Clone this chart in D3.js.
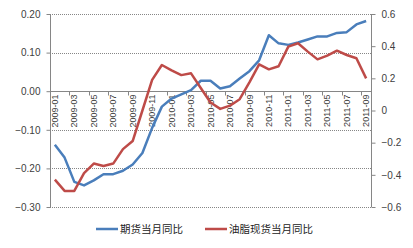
<!DOCTYPE html>
<html><head><meta charset="utf-8">
<script src="https://cdn.jsdelivr.net/npm/d3@7"></script>
<style>body{margin:0;background:#fff}svg{display:block}</style>
</head><body>
<script>
const categories = [];
const years = ["2009","2010","2011"];
years.forEach(y => { for (let m = 1; m <= 12; m++) { if (y === "2011" && m > 9) break; categories.push(y + "-" + String(m).padStart(2, "0")); } });
const futures = [-0.139,-0.172,-0.235,-0.244,-0.231,-0.215,-0.215,-0.206,-0.19,-0.16,-0.095,-0.04,-0.019,-0.008,0.003,0.027,0.027,0.007,0.013,0.033,0.052,0.08,0.145,0.124,0.120,0.126,0.134,0.142,0.142,0.151,0.153,0.173,0.182];
const spot = [-0.43,-0.50,-0.50,-0.39,-0.33,-0.345,-0.33,-0.24,-0.19,0.0,0.19,0.283,0.25,0.22,0.231,0.14,0.05,0.01,0.03,0.07,0.175,0.287,0.256,0.275,0.397,0.418,0.366,0.318,0.341,0.372,0.345,0.325,0.20];
const leftTicks = [0.2,0.1,0,-0.1,-0.2,-0.3];
const rightTicks = [0.6,0.4,0.2,0,-0.2,-0.4,-0.6];
const seriesNames = ["期货当月同比","油脂现货当月同比"];
const colors = ["#4a7ebb","#be4b48"];

const W = 413, H = 248;
const svg = d3.select("body").append("svg").attr("width", W).attr("height", H);
const x0 = 50, x1 = 371, yTop = 14, yBot = 207;
const x = d3.scaleBand().domain(categories).range([x0, x1]);
const yL = d3.scaleLinear().domain([-0.3, 0.2]).range([yBot, yTop]);
const yR = d3.scaleLinear().domain([-0.6, 0.6]).range([yBot, yTop]);
const axisCol = "#868686", textCol = "#404040";
const font = "'Liberation Sans', Arial, sans-serif";

// gridlines
svg.append("g").selectAll("line").data(leftTicks.filter(d => d !== 0)).join("line")
  .attr("x1", x0).attr("x2", x1).attr("y1", d => Math.round(yL(d)) + 0.5).attr("y2", d => Math.round(yL(d)) + 0.5)
  .attr("stroke", axisCol).attr("stroke-width", 1).attr("stroke-dasharray", "1,1");

// left axis
const gL = svg.append("g").attr("transform", `translate(${x0 + 0.5},0)`)
  .call(d3.axisLeft(yL).tickValues(leftTicks).tickFormat(d3.format(".2f")).tickSize(4).tickPadding(6));
gL.select(".domain").attr("stroke", axisCol).attr("d", `M-0,${yTop}V${yBot}`);
gL.selectAll(".tick line").attr("stroke", axisCol);
gL.selectAll("text").attr("fill", textCol).attr("font-size", 10).attr("font-family", font);

// right axis
const gR = svg.append("g").attr("transform", `translate(${x1 + 0.5},0)`)
  .call(d3.axisRight(yR).tickValues(rightTicks).tickFormat(d => d === 0 ? "0" : d3.format(".1f")(d)).tickSize(4).tickPadding(6));
gR.select(".domain").attr("stroke", axisCol).attr("d", `M0,${yTop}V${yBot}`);
gR.selectAll(".tick line").attr("stroke", axisCol);
gR.selectAll("text").attr("fill", textCol).attr("font-size", 10).attr("font-family", font);

// category axis at 0
const y0 = Math.round(yL(0)) + 0.5;
const gX = svg.append("g").attr("transform", `translate(0,${y0})`);
gX.append("line").attr("x1", x0).attr("x2", x1).attr("stroke", axisCol);
const bw = x.bandwidth();
gX.selectAll("line.tk").data(categories.filter((d, i) => i % 2 === 0)).join("line").attr("class", "tk")
  .attr("x1", d => Math.round(x(d)) + 0.5).attr("x2", d => Math.round(x(d)) + 0.5).attr("y1", 0).attr("y2", 4).attr("stroke", axisCol);
gX.selectAll("text").data(categories.filter((d, i) => i % 2 === 0)).join("text")
  .attr("transform", d => `translate(${x(d) + bw / 2},3) rotate(-90)`)
  .attr("text-anchor", "end").attr("dy", "0.35em")
  .attr("fill", textCol).attr("font-size", 9).attr("font-family", font).text(d => d);

// lines
const lineL = d3.line().x((d, i) => x(categories[i]) + bw / 2).y(d => yL(d));
const lineR = d3.line().x((d, i) => x(categories[i]) + bw / 2).y(d => yR(d));
svg.append("path").datum(futures).attr("d", lineL).attr("fill", "none").attr("stroke", colors[0]).attr("stroke-width", 2.5).attr("stroke-linejoin", "round");
svg.append("path").datum(spot).attr("d", lineR).attr("fill", "none").attr("stroke", colors[1]).attr("stroke-width", 2.5).attr("stroke-linejoin", "round");

// legend
const legX = [96, 205];
const leg = svg.append("g");
seriesNames.forEach((n, i) => {
  leg.append("line").attr("x1", legX[i]).attr("x2", legX[i] + 22).attr("y1", 229).attr("y2", 229)
    .attr("stroke", colors[i]).attr("stroke-width", 2.5);
  leg.append("text").attr("x", legX[i] + 24).attr("y", 229).attr("dy", "0.35em")
    .attr("font-size", 10.5).attr("fill", "#222").attr("font-family", "'Noto Sans CJK SC', sans-serif").text(n);
});
</script>
</body></html>
